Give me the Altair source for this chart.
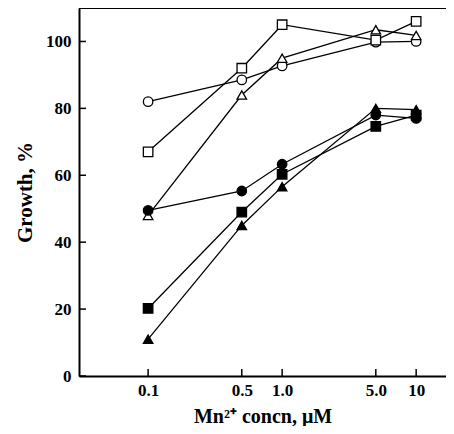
import altair as alt
import pandas as pd

conc = [0.1, 0.5, 1.0, 5.0, 10]
open_circle = [82, 88.5, 92.7, 99.8, 100]
open_square = [67, 92, 105, 100.4, 106]
open_triangle = [48, 84, 95, 103.5, 101.8]
filled_circle = [49.5, 55.3, 63.3, 78, 77]
filled_square = [20.2, 49, 60.3, 74.6, 78]
filled_triangle = [11, 45, 56.6, 80, 79.6]

series_names = ["open_circle", "open_square", "open_triangle",
                "filled_circle", "filled_square", "filled_triangle"]
series_vals = [open_circle, open_square, open_triangle,
               filled_circle, filled_square, filled_triangle]
shapes = ["circle", "square", "triangle-up", "circle", "square", "triangle-up"]
fills = ["white", "white", "white", "black", "black", "black"]

x_ticks = [0.1, 0.5, 1.0, 5.0, 10]
y_ticks = [0, 20, 40, 60, 80, 100]

rows = []
for name, vals in zip(series_names, series_vals):
    for c, v in zip(conc, vals):
        rows.append({"series": name, "conc": c, "growth": v})
df = pd.DataFrame(rows)

W, H = 367, 368
FONT = "Liberation Serif"

xscale = alt.Scale(type="log", domain=[0.0305, 16.7], nice=False)
yscale = alt.Scale(domain=[0, 110], nice=False)

xaxis = alt.Axis(values=x_ticks, grid=False, ticks=False, domainColor="black",
                 domainWidth=2, labelFont=FONT, labelFontWeight="bold",
                 labelFontSize=17, labelColor="black", labelPadding=6,
                 labelExpr="datum.value == 10 ? '10' : format(datum.value, '.1f')",
                 title="Mn²⁺ concn, μM", titleFont=FONT, titleFontWeight="bold",
                 titleFontSize=20, titleColor="black", titlePadding=8)
yaxis = alt.Axis(values=y_ticks, grid=False, ticks=False, domainColor="black",
                 domainWidth=2, labelFont=FONT, labelFontWeight="bold",
                 labelFontSize=17, labelColor="black", labelPadding=8, format="d",
                 title="Growth, %", titleFont=FONT, titleFontWeight="bold",
                 titleFontSize=21, titleColor="black", titlePadding=10)

base = alt.Chart(df)
lines = base.mark_line(color="black", strokeWidth=1.3).encode(
    x=alt.X("conc:Q", scale=xscale, axis=xaxis),
    y=alt.Y("growth:Q", scale=yscale, axis=yaxis),
    detail="series:N",
)
points = base.mark_point(filled=True, stroke="black", strokeWidth=1.3,
                         opacity=1, size=90).encode(
    x=alt.X("conc:Q", scale=xscale),
    y=alt.Y("growth:Q", scale=yscale),
    shape=alt.Shape("series:N", scale=alt.Scale(domain=series_names, range=shapes), legend=None),
    fill=alt.Fill("series:N", scale=alt.Scale(domain=series_names, range=fills), legend=None),
)

xt = alt.Chart(pd.DataFrame({"t": x_ticks})).mark_rule(color="black", strokeWidth=1.5).encode(
    x=alt.X("t:Q", scale=xscale), y=alt.value(H), y2=alt.value(H - 7))
yt = alt.Chart(pd.DataFrame({"t": y_ticks})).mark_rule(color="black", strokeWidth=1.5).encode(
    y=alt.Y("t:Q", scale=yscale), x=alt.value(0), x2=alt.value(7))
top = alt.Chart(pd.DataFrame({"a": [0]})).mark_rule(color="black", strokeWidth=2).encode(
    x=alt.value(0), x2=alt.value(W), y=alt.value(0))

chart = alt.layer(lines, xt, yt, top, points).properties(
    width=W, height=H,
    autosize=alt.AutoSizeParams(type="none"),
    padding={"left": 71, "top": 0, "right": 0, "bottom": 50},
).configure_view(stroke=None).configure(background="white")

chart.save("out.html", embed_options={"renderer": "svg", "actions": False})
